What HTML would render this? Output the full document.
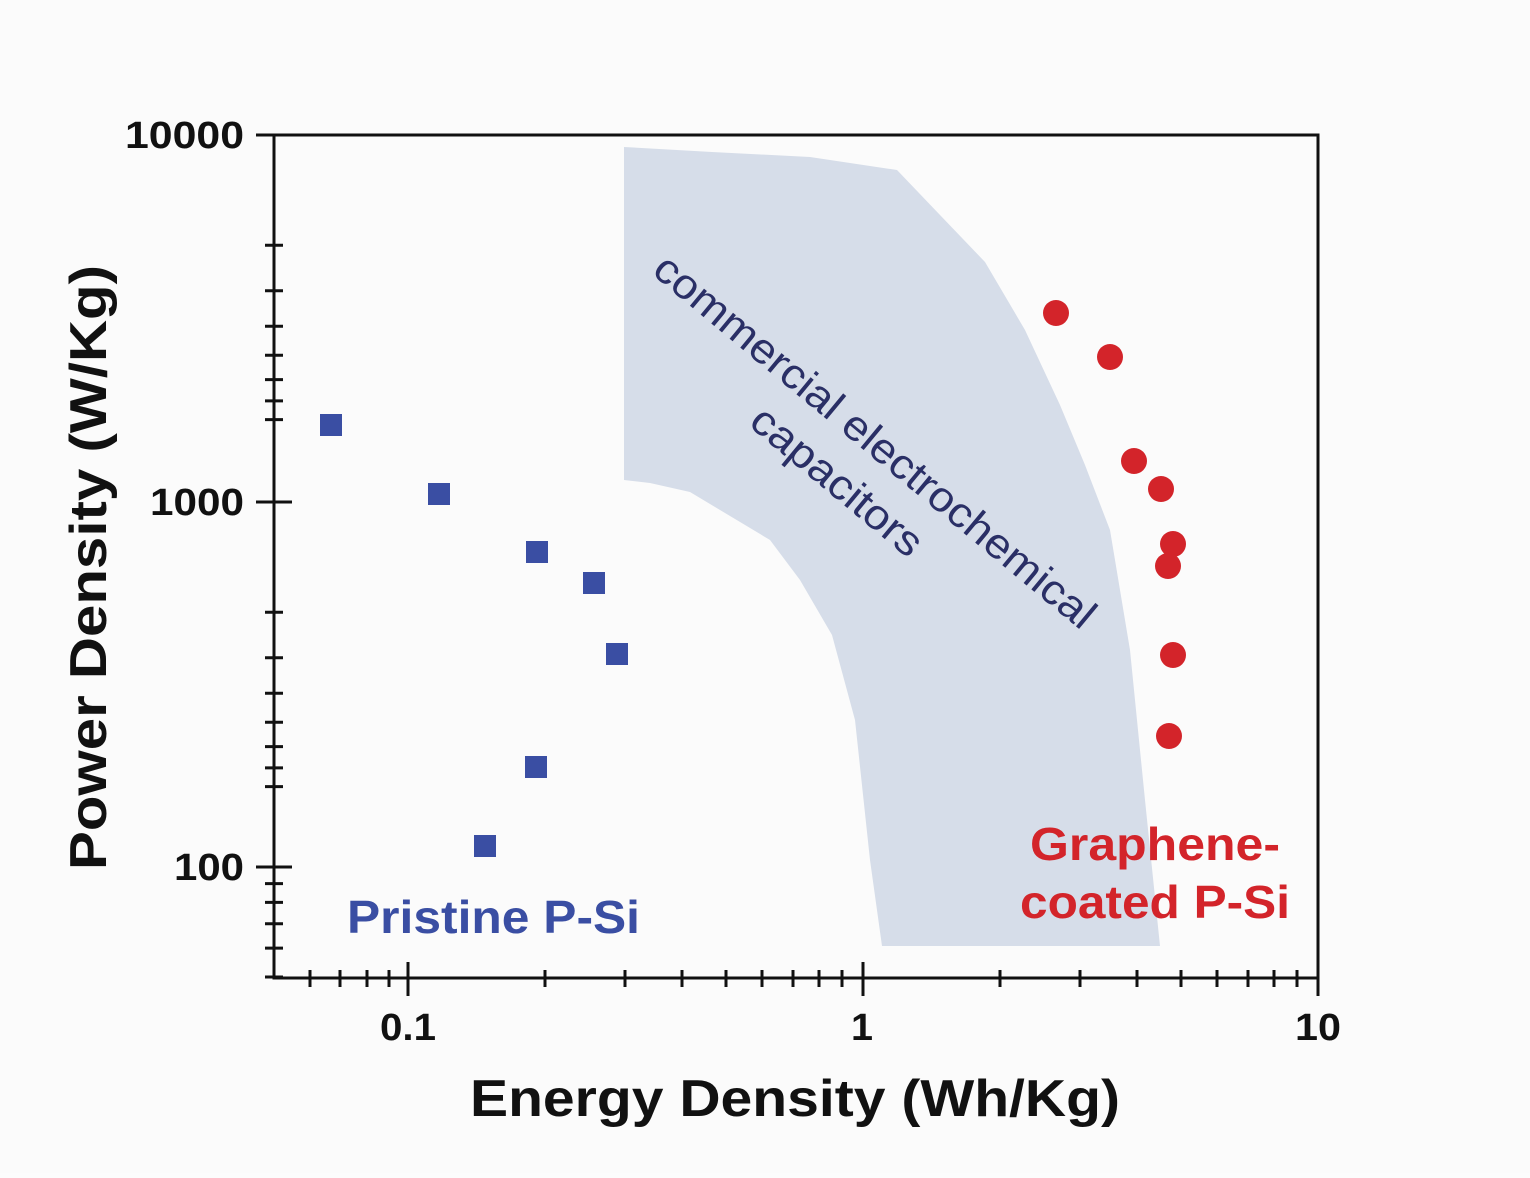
<!DOCTYPE html>
<html><head><style>body{margin:0;background:#fcfcfc}</style></head><body>
<svg width="1530" height="1173" viewBox="0 0 1530 1173" xmlns="http://www.w3.org/2000/svg" font-family="Liberation Sans, sans-serif">
<rect width="1530" height="1173" fill="#fbfbfb"/>
<polygon fill="#d6dde9" points="624,147 712,152 810,157 897,170 940,215 985,262 1025,330 1060,405 1085,465 1110,530 1130,650 1145,800 1160,946 882,946 870,860 855,720 832,635 800,580 770,540 690,492 650,483 624,480"/>
<g stroke="#111" stroke-width="3" fill="none">
<rect x="274" y="135" width="1044" height="843"/>
<path d="M256 135H292M256 502H292M256 867H292"/>
<path d="M265 245.2H283M265 290.8H283M265 326.3H283M265 355.2H283M265 379.6H283M265 400.9H283M265 419.6H283M265 612.2H283M265 657.8H283M265 693.3H283M265 722.2H283M265 746.6H283M265 767.9H283M265 786.6H283M265 977H283M265 948.1H283M265 923.7H283M265 902.4H283M265 883.6H283"/>
<path d="M408 962V996M863 962V996M1318 962V996"/>
<path d="M310 970V987M340 970V987M367 970V987M389 970V987M545 970V987M625 970V987M682 970V987M726 970V987M762 970V987M793 970V987M819 970V987M842 970V987M1000 970V987M1080 970V987M1137 970V987M1181 970V987M1217 970V987M1248 970V987M1274 970V987M1297 970V987"/>
</g>
<g font-weight="bold" font-size="38" fill="#111">
<text x="125" y="148" textLength="119" lengthAdjust="spacingAndGlyphs">10000</text>
<text x="150" y="515" textLength="94" lengthAdjust="spacingAndGlyphs">1000</text>
<text x="174" y="880" textLength="70" lengthAdjust="spacingAndGlyphs">100</text>
<text x="380" y="1040" textLength="56" lengthAdjust="spacingAndGlyphs">0.1</text>
<text x="851" y="1040" textLength="22" lengthAdjust="spacingAndGlyphs">1</text>
<text x="1295" y="1040" textLength="46" lengthAdjust="spacingAndGlyphs">10</text>
</g>
<text x="470" y="1116" font-weight="bold" font-size="52" fill="#111" textLength="650" lengthAdjust="spacingAndGlyphs">Energy Density (Wh/Kg)</text>
<text transform="translate(106,870) rotate(-90)" font-weight="bold" font-size="52" fill="#111" textLength="605" lengthAdjust="spacingAndGlyphs">Power Density (W/Kg)</text>
<g fill="#3a4ea3">
<rect x="320" y="414" width="22" height="22"/><rect x="428" y="483" width="22" height="22"/><rect x="526" y="541" width="22" height="22"/><rect x="583" y="572" width="22" height="22"/><rect x="606" y="643" width="22" height="22"/><rect x="525" y="756" width="22" height="22"/><rect x="474" y="835" width="22" height="22"/>
</g>
<g fill="#d3242a">
<circle cx="1056" cy="313" r="13"/><circle cx="1110" cy="357" r="13"/><circle cx="1134" cy="461" r="13"/><circle cx="1161" cy="489" r="13"/><circle cx="1173" cy="544" r="13"/><circle cx="1168" cy="566" r="13"/><circle cx="1173" cy="655" r="13"/><circle cx="1169" cy="736" r="13"/>
</g>
<text x="347" y="933" font-weight="bold" font-size="46" fill="#3a4ea3" textLength="293" lengthAdjust="spacingAndGlyphs">Pristine P-Si</text>
<g font-weight="bold" font-size="46" fill="#d3242a">
<text x="1030" y="860" textLength="250" lengthAdjust="spacingAndGlyphs">Graphene-</text>
<text x="1020" y="918" textLength="270" lengthAdjust="spacingAndGlyphs">coated P-Si</text>
</g>
<g font-size="42" fill="#2a2f66" text-anchor="middle">
<text transform="translate(866,452) rotate(39.7)" textLength="560" lengthAdjust="spacingAndGlyphs">commercial electrochemical</text>
<text transform="translate(828,492) rotate(39.7)" textLength="210" lengthAdjust="spacingAndGlyphs">capacitors</text>
</g>
</svg>
</body></html>
